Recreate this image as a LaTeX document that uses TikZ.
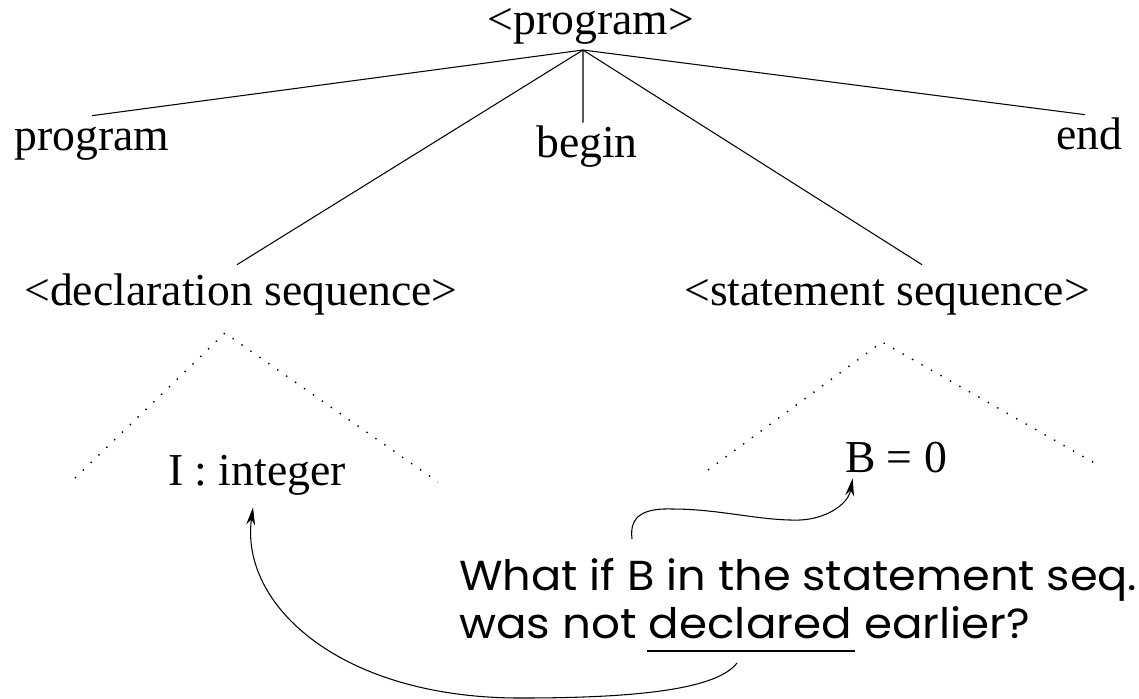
\documentclass[tikz,border=0pt]{standalone}
\usepackage{fontspec}
\setmainfont{Liberation Serif}
\newfontfamily\qfont{Poppins}
\usetikzlibrary{arrows.meta}
\begin{document}
\begin{tikzpicture}[x=0.02cm,y=-0.02cm,
  lbl/.style={font=\fontsize{26}{31}\selectfont, inner sep=0pt, text height=0.68cm, text depth=0.2cm, anchor=base},
  branch/.style={line width=0.6pt},
  dots/.style={line width=0.8pt, dash pattern=on 0.8pt off 5.4pt},
  arr/.style={line width=0.6pt, -{Stealth[length=10pt,width=5pt,inset=3pt]}},
  qline/.style={inner sep=0pt, anchor=base west}]
\useasboundingbox (0,0) rectangle (1139,698);
% tree labels
\node[lbl] (prog) at (591,34) {<program>};
\node[lbl] (pw) at (92,150) {program};
\node[lbl] (bg) at (587,157) {begin};
\node[lbl] (en) at (1089,149) {end};
\node[lbl] (ds) at (241,305) {<declaration sequence>};
\node[lbl] (ss) at (887,305) {<statement sequence>};
\node[lbl] (ii) at (257,485) {I : integer};
\node[lbl] (b0) at (896,472) {B = 0};
% question text
\node[qline] (q1) at (459,590) {\resizebox{13.56cm}{0.64cm}{\qfont What if B in the statement seq.}};
\node[qline] (q2) at (459,638) {\resizebox{11.42cm}{0.64cm}{\qfont was not declared earlier?}};
% branches
\coordinate (apex) at (583,50);
\draw[branch] (apex) -- (pw.north);
\draw[branch] (apex) -- ([xshift=-0.08cm]bg.north);
\draw[branch] (apex) -- ([xshift=-0.08cm]en.north);
\draw[branch] (apex) -- ([xshift=-0.08cm,yshift=0.12cm]ds.north);
\draw[branch] (apex) -- ([xshift=0.7cm,yshift=0.12cm]ss.north);
% dotted subtrees
\draw[dots] (75,478) -- (225,333) -- (438,482);
\draw[dots] (708,470) -- (882,342) -- (1098,465);
% underline
\draw[line width=1.1pt] (647,651) -- (855,651);
% arrows
\coordinate (a1s) at (632,539);
\coordinate (a2s) at (737,663);
\draw[arr] (a1s) .. controls (629,515) and (645,508) .. (673,509)
  .. controls (720,509) and (760,521) .. (800,520)
  .. controls (825,519) and (848,505) .. ([xshift=0.16cm,yshift=0.08cm]b0.south west);
\draw[arr] (a2s) .. controls (715,692) and (620,698) .. (520,698)
  .. controls (340,698) and (240,605) .. ([xshift=-0.08cm,yshift=-0.24cm]ii.south);
\end{tikzpicture}
\end{document}
